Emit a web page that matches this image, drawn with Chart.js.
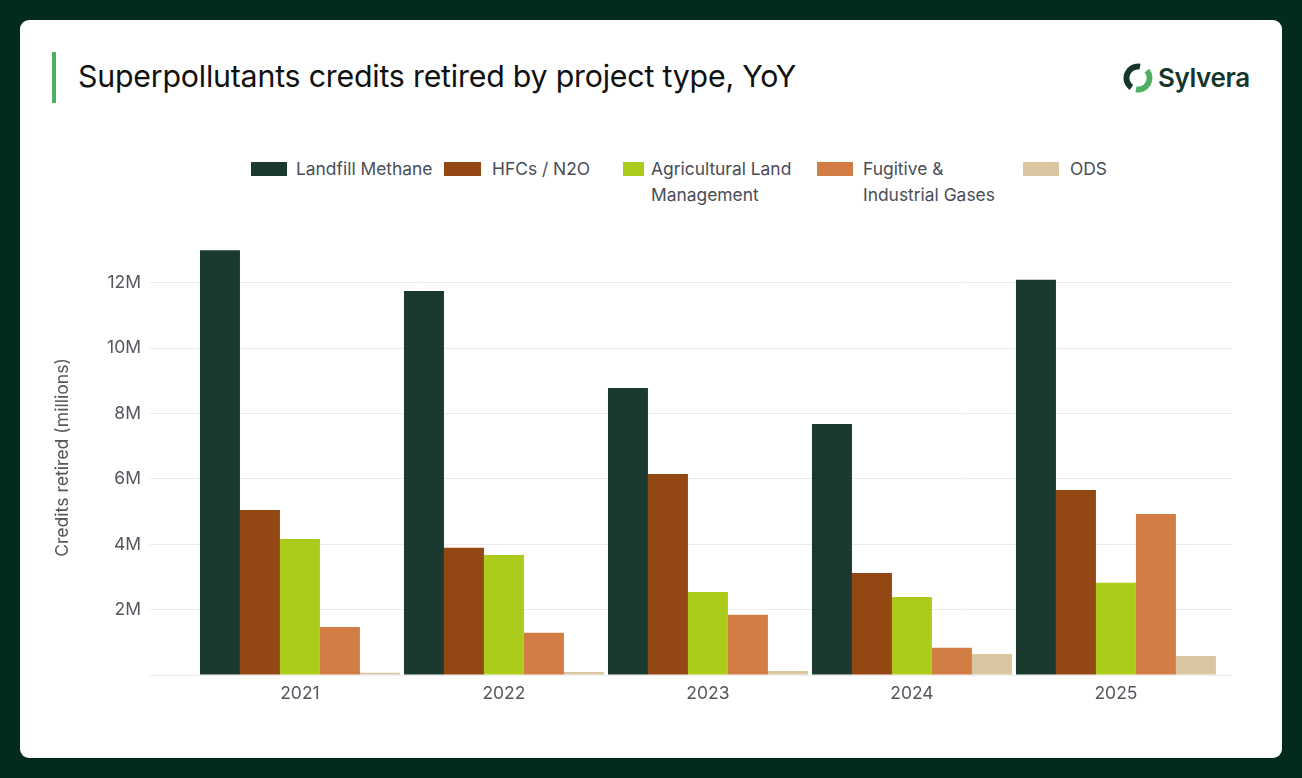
<!DOCTYPE html>
<html>
<head>
<meta charset="utf-8">
<script src="https://cdn.jsdelivr.net/npm/chart.js@4.4.1/dist/chart.umd.min.js"></script>
<style>
  html, body { margin:0; padding:0; }
  body { width:1302px; height:778px; background:#032a1f; position:relative; overflow:hidden; font-family:Inter, "Noto Sans", sans-serif; }
  #card { position:absolute; left:20px; top:20px; width:1262px; height:738px; background:#fff; border-radius:9px; overflow:hidden; }
  #accent { position:absolute; left:32px; top:32px; width:4px; height:51px; background:#4fae5f; }
  #title { position:absolute; left:58px; top:37px; font-size:30.3px; color:#111; line-height:38px; letter-spacing:-0.2px; }
  #logo { position:absolute; left:1103px; top:42px; width:150px; height:32px; }
  #logo svg { position:absolute; left:0; top:0; }
  #logo span { position:absolute; left:35px; top:0; line-height:32px; font-size:26px; font-weight:600; color:#15372a; letter-spacing:-0.4px; }
  .sw { position:absolute; top:142px; height:14px; }
  .lt { position:absolute; top:136px; font-size:17.4px; color:#4a4d57; line-height:26px; white-space:nowrap; }
  #wrap { position:absolute; left:0; top:0; width:1262px; height:738px; }
</style>
</head>
<body>
<div id="card">
  <div id="accent"></div>
  <div id="title">Superpollutants credits retired by project type, YoY</div>
  <div id="logo">
    <svg width="30" height="32" viewBox="0 0 30 32">
      <path d="M17 4.67 A11.5 11.5 0 0 0 8.4 25.42" fill="none" stroke="#15372a" stroke-width="6"/>
      <path d="M23.81 8.61 A11.5 11.5 0 0 1 13 27.33" fill="none" stroke="#4fae5f" stroke-width="6"/>
    </svg>
    <span>Sylvera</span>
  </div>
  <div id="legend"></div>
  <div id="wrap"><canvas id="c"></canvas></div>
</div>
<script>
const years = ['2021', '2022', '2023', '2024', '2025'];
const seriesNames = ['Landfill Methane', 'HFCs / N2O', 'Agricultural Land Management', 'Fugitive & Industrial Gases', 'ODS'];
const seriesColors = ['#1b3a2f', '#934814', '#abcc1a', '#d27d44', '#d9c5a0'];
const landfillMethane = [13.0, 11.75, 8.78, 7.68, 12.09];
const hfcsN2O = [5.05, 3.89, 6.15, 3.12, 5.66];
const agriculturalLand = [4.16, 3.67, 2.54, 2.39, 2.82];
const fugitiveIndustrial = [1.47, 1.29, 1.84, 0.83, 4.93];
const ods = [0.07, 0.09, 0.12, 0.64, 0.58];
const yTicks = [0, 2, 4, 6, 8, 10, 12];

const allSeries = [landfillMethane, hfcsN2O, agriculturalLand, fugitiveIndustrial, ods];

// HTML legend (wrapped labels)
const legendBoxLefts = [231, 424, 603, 797, 1003];
const legendBoxWidths = [36, 37, 21, 36, 36];
const legendTextLefts = [276, 472, 631, 843, 1050];
const legendTexts = ['Landfill Methane', 'HFCs / N2O', 'Agricultural Land<br>Management', 'Fugitive &amp;<br>Industrial Gases', 'ODS'];
const lg = document.getElementById('legend');
seriesNames.forEach((n, i) => {
  const b = document.createElement('div');
  b.className = 'sw';
  b.style.left = legendBoxLefts[i] + 'px';
  b.style.width = legendBoxWidths[i] + 'px';
  b.style.background = seriesColors[i];
  lg.appendChild(b);
  const t = document.createElement('div');
  t.className = 'lt';
  t.style.left = legendTextLefts[i] + 'px';
  t.innerHTML = legendTexts[i];
  lg.appendChild(t);
});

const datasets = allSeries.map((arr, i) => ({
  label: seriesNames[i],
  data: arr.map((v, j) => ({ x: j, y: v * 1e6 })),
  backgroundColor: seriesColors[i],
  borderWidth: 0,
  barPercentage: 1,
  categoryPercentage: 0.98
}));

Chart.defaults.font.family = 'Inter, "Noto Sans", sans-serif';
new Chart(document.getElementById('c'), {
  type: 'bar',
  data: { datasets },
  options: {
    responsive: true,
    maintainAspectRatio: false,
    animation: false,
    layout: { padding: { left: 0, right: 50, top: 220, bottom: 43 } },
    plugins: { legend: { display: false }, tooltip: { enabled: false } },
    scales: {
      x: {
        type: 'linear',
        min: -0.735,
        max: 4.569,
        offset: false,
        grid: { display: false, drawTicks: false },
        border: { display: false },
        afterBuildTicks: s => { s.ticks = years.map((_, i) => ({ value: i })); },
        afterFit: s => { s.height = 40; },
        ticks: {
          padding: 8,
          color: '#55575f',
          font: { size: 17.5 },
          maxRotation: 0,
          autoSkip: false,
          callback: v => years[v]
        }
      },
      y: {
        min: 0,
        max: 13.31e6,
        grid: { color: '#ececf0', drawTicks: false, lineWidth: 1 },
        border: { display: false },
        afterBuildTicks: s => { s.ticks = yTicks.map(v => ({ value: v * 1e6 })); },
        afterFit: s => { s.width = 130; },
        ticks: {
          padding: 9,
          color: '#55575f',
          font: { size: 17.5 },
          callback: v => v === 0 ? '' : (v / 1e6) + 'M'
        },
        title: {
          display: true,
          text: 'Credits retired (millions)',
          color: '#55575f',
          font: { size: 17.6 },
          padding: { top: 32, bottom: 0 }
        }
      }
    }
  }
});
</script>
</body>
</html>
